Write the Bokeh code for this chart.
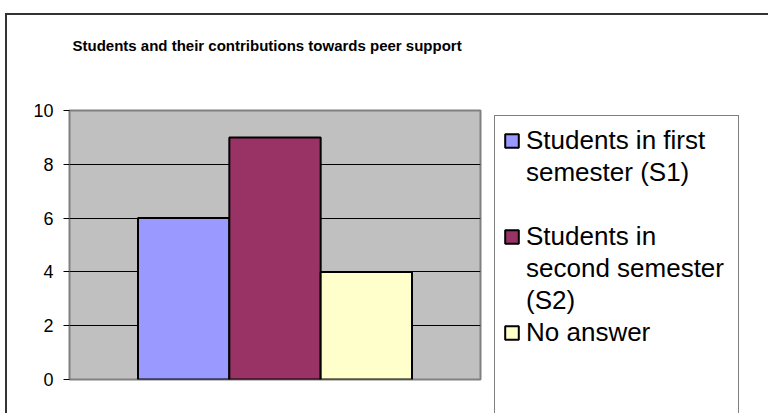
from bokeh.plotting import figure
from bokeh.models import (ColumnDataSource, FactorRange, Range1d, Legend, LegendItem,
                          FixedTicker, Title)
from bokeh.embed import file_html
from bokeh.resources import INLINE

title = "Students and their contributions towards peer support"
group = "Students"
keys = ["S1", "S2", "NA"]
values = [6, 9, 4]
colors = ["#9999FF", "#993366", "#FFFFCC"]
# legend text, one list of lines per series, as wrapped in the reference
legend_lines = [["Students in first", "semester (S1)", " "],
                ["Students in", "second semester", "(S2)"],
                ["No answer", " ", " "]]
yticks = [0, 2, 4, 6, 8, 10]

FONT = "Liberation Sans"

p = figure(frame_width=411, frame_height=269, output_backend="svg", toolbar_location=None,
           x_range=FactorRange(factors=[(group, k) for k in keys], range_padding=0.5,
                               group_padding=0, factor_padding=0),
           y_range=Range1d(0, 10))
p.title = None
p.styles = {"border": "2px solid #333333", "margin-left": "5px", "margin-top": "13px"}
p.min_border_left = 62
p.min_border_right = 286
p.min_border_top = 95
p.min_border_bottom = 66

p.background_fill_color = "#C0C0C0"
p.border_fill_color = "white"
p.outline_line_color = "#808080"
p.outline_line_width = 2

# empty spacer between frame and title, then the title itself
p.add_layout(Title(text=" ", text_font=FONT, text_font_size="15px", standoff=38), "above")
p.add_layout(Title(text=title, text_font=FONT, text_font_size="15px", text_font_style="bold",
                   text_color="black", align="left", offset=3, standoff=0), "above")

src = ColumnDataSource(dict(x=[(group, k) for k in keys], top=values, color=colors))
r = p.vbar(x="x", top="top", width=1.0, source=src, fill_color="color",
           line_color="black", line_width=2)
# invisible twin used only for the continuation lines of the legend
ghost = p.vbar(x="x", top="top", width=1.0, source=src, fill_alpha=0, line_alpha=0)

p.xaxis.visible = False
p.xgrid.visible = False
p.ygrid.grid_line_color = "black"
p.ygrid.grid_line_width = 1
p.ygrid.ticker = FixedTicker(ticks=yticks)

ya = p.yaxis[0]
ya.ticker = FixedTicker(ticks=yticks)
ya.axis_line_color = "#808080"
ya.major_tick_out = 6
ya.major_tick_in = 0
ya.minor_tick_line_color = None
ya.major_tick_line_color = "black"
ya.major_label_text_font = FONT
ya.major_label_text_font_size = "18px"
ya.major_label_text_color = "black"
ya.major_label_standoff = 10

items = []
for i, lines in enumerate(legend_lines):
    for j, line in enumerate(lines):
        if j == 0:
            items.append(LegendItem(label=line, renderers=[r], index=i))
        else:
            items.append(LegendItem(label=line, renderers=[ghost], index=i))

legend = Legend(items=items, location=(14, -42), margin=0)
legend.label_text_font = FONT
legend.label_text_font_size = "26px"
legend.label_text_color = "black"
legend.label_height = 32
legend.label_width = 204
legend.label_standoff = 6
legend.glyph_width = 17
legend.glyph_height = 17
legend.spacing = 0
legend.padding = 8
legend.border_line_color = "black"
legend.border_line_width = 1
legend.background_fill_alpha = 0
p.add_layout(legend, "right")

open("out.html", "w").write(file_html(p, INLINE))
